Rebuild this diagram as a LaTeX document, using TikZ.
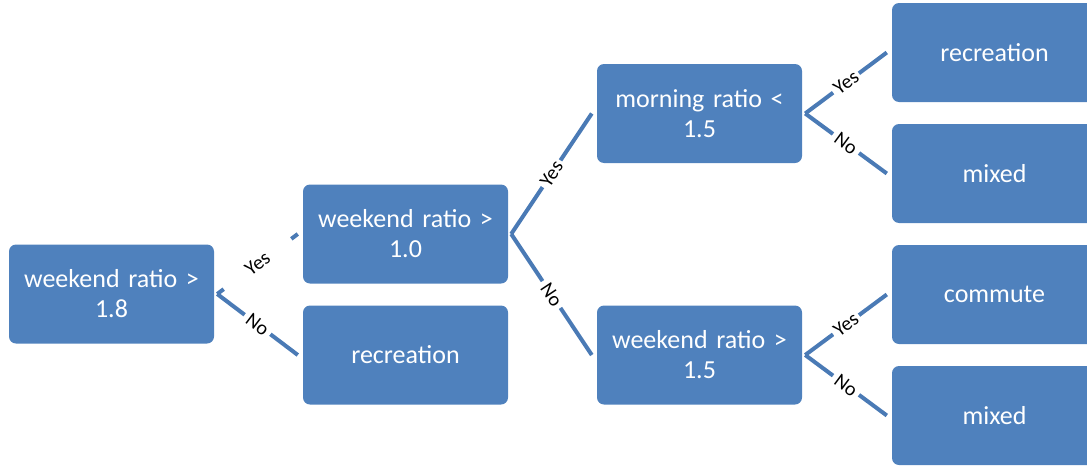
\documentclass[tikz,border=0pt]{standalone}
\usepackage{fontspec}
\setmainfont{Carlito}
\usetikzlibrary{calc}
\definecolor{boxblue}{HTML}{4F81BD}
\definecolor{lineblue}{HTML}{4A7AB5}
\begin{document}
\begin{tikzpicture}[x=1pt,y=-1pt,
  box/.style={rectangle, rounded corners=7pt, fill=boxblue, text=white,
    minimum width=205pt, minimum height=99pt, inner sep=0pt, text width=200pt,
    align=center, font=\fontsize{26}{30}\selectfont},
  conn/.style={draw=lineblue, line width=4pt},
  lab/.style={sloped, fill=white, inner sep=1pt, minimum width=32pt,
    font=\fontsize{20}{22}\selectfont, text=black}]
\clip (0,0) rectangle (1087,466);
\node[box] (root) at (111.5,294) {weekend ratio >\\1.8};
\node[box] (b1) at (405.5,234) {weekend ratio >\\1.0};
\node[box] (b2) at (405.5,355) {recreation};
\node[box] (c1) at (699.5,113.5) {morning ratio <\\1.5};
\node[box] (c2) at (699.5,355) {weekend ratio >\\1.5};
\node[box] (d1) at (994.5,52.5) {recreation};
\node[box] (d2) at (994.5,173.5) {mixed};
\node[box] (d3) at (994.5,294.5) {commute};
\node[box] (d4) at (994.5,415.5) {mixed};
% apex and end coordinates
\coordinate (ar) at ($(root.east)+(3,0)$);
\coordinate (ab) at ($(b1.east)+(3,0)$);
\coordinate (ac1) at ($(c1.east)+(3,0)$);
\coordinate (ac2) at ($(c2.east)+(3,0)$);
\coordinate (eb1) at ($(b1.west)+(-5,0)$);
\coordinate (eb2) at ($(b2.west)+(-5,0)$);
\coordinate (ec1) at ($(c1.west)+(-5,0)$);
\coordinate (ec2) at ($(c2.west)+(-5,0)$);
\coordinate (ed1) at ($(d1.west)+(-5,0)$);
\coordinate (ed2) at ($(d2.west)+(-5,0)$);
\coordinate (ed3) at ($(d3.west)+(-5,0)$);
\coordinate (ed4) at ($(d4.west)+(-5,0)$);
\draw[conn] (ar) -- node[lab, minimum width=84pt] {Yes} (eb1);
\draw[conn] (ar) -- node[lab] {No} (eb2);
\draw[conn] (ab) -- node[lab] {Yes} (ec1);
\draw[conn] (ab) -- node[lab] {No} (ec2);
\draw[conn] (ac1) -- node[lab] {Yes} (ed1);
\draw[conn] (ac1) -- node[lab] {No} (ed2);
\draw[conn] (ac2) -- node[lab] {Yes} (ed3);
\draw[conn] (ac2) -- node[lab] {No} (ed4);
\end{tikzpicture}
\end{document}
